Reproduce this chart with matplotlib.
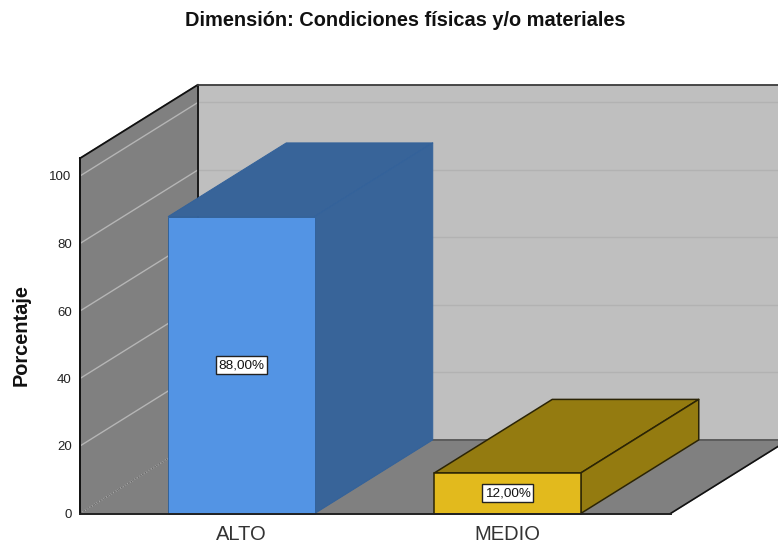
import matplotlib
matplotlib.use('Agg')
import matplotlib.pyplot as plt
from matplotlib.patches import Polygon

plt.rcParams['font.family'] = ['Liberation Sans', 'DejaVu Sans']

categorias = ['ALTO', 'MEDIO']
porcentajes = [88.0, 12.0]
etiquetas = ['88,00%', '12,00%']
marcas_y = [0, 20, 40, 60, 80, 100]

W, H = 778, 545
# plano frontal en pixeles
izq, der, base, tope = 80, 670.5, 513.5, 158.3
esc_y = 3.375
esc_x = 266.0
centro0 = 241.5
# profundidad del efecto 3D en unidades de datos
prof_x = 118 / esc_x
prof_y = 73.6 / esc_y
ancho = 146.5 / esc_x

colores = ['#5394e4', '#e2ba1d']
oscuros = ['#386499', '#947b10']
bordes = ['#33629a', '#2b2405']
grosor = [0.7, 1.1]

fig = plt.figure(figsize=(W / 100, H / 100), dpi=100, facecolor='white')
ax = fig.add_axes([izq / W, 1 - base / H, (der - izq) / W, (base - tope) / H])
ax.set_xlim((izq - centro0) / esc_x, (der - centro0) / esc_x)
ax.set_ylim(0, (base - tope) / esc_y)
x0, x1 = ax.get_xlim()
y0, y1 = ax.get_ylim()


def cara(puntos, color, borde=None, lw=1.0, z=1):
    ax.add_patch(Polygon(puntos, closed=True, facecolor=color, edgecolor=borde or color,
                         linewidth=lw, clip_on=False, zorder=z, joinstyle='round'))


# paredes y piso
cara([(x0 + prof_x, y0 + prof_y), (x1 + prof_x, y0 + prof_y), (x1 + prof_x, y1 + prof_y), (x0 + prof_x, y1 + prof_y)],
     '#bfbfbf', z=1)
cara([(x0, y0), (x0 + prof_x, y0 + prof_y), (x0 + prof_x, y1 + prof_y), (x0, y1)], '#808080', z=1)
cara([(x0, y0), (x1, y0), (x1 + prof_x, y0 + prof_y), (x0 + prof_x, y0 + prof_y)], '#808080', z=1)

# rejilla
for v in marcas_y[1:]:
    ax.plot([x0 + prof_x, x1 + prof_x], [v + prof_y, v + prof_y], color='#b2b2b2', lw=1.0, clip_on=False, zorder=2)
    ax.plot([x0, x0 + prof_x], [v, v + prof_y], color='#b5b5b5', lw=1.0, clip_on=False, zorder=2)
ax.plot([x0, x0 + prof_x], [y0, y0 + prof_y], color='#b5b5b5', lw=1.0, ls=(0, (1, 1)), clip_on=False, zorder=2)

# contornos de las paredes
ax.plot([x0, x0 + prof_x, x0 + prof_x], [y1, y1 + prof_y, y0 + prof_y], color='#111111', lw=1.3, clip_on=False, zorder=3)
ax.plot([x0 + prof_x, x1 + prof_x], [y1 + prof_y, y1 + prof_y], color='#3c3c3c', lw=1.3, clip_on=False, zorder=3)
ax.plot([x0 + prof_x, x1 + prof_x], [y0 + prof_y, y0 + prof_y], color='#5a5a5a', lw=1.3, clip_on=False, zorder=3)
ax.plot([x0, x0 + prof_x], [y0, y0 + prof_y], color='#5a5a5a', lw=0.6, ls=(0, (1, 1)), clip_on=False, zorder=3)
ax.plot([x1, x1 + prof_x], [y0, y0 + prof_y], color='#111111', lw=1.2, clip_on=False, zorder=3)

# barras
for i, v in enumerate(porcentajes):
    a = i - ancho / 2
    b = i + ancho / 2
    cara([(a, v), (b, v), (b + prof_x, v + prof_y), (a + prof_x, v + prof_y)], oscuros[i], bordes[i], grosor[i], z=4)
    cara([(b, 0), (b + prof_x, prof_y), (b + prof_x, v + prof_y), (b, v)], oscuros[i], bordes[i], grosor[i], z=4)
    ax.bar(i, v, width=ancho, color=colores[i], edgecolor=bordes[i], linewidth=grosor[i], zorder=5, clip_on=False)
    ax.text(i, v / 2, etiquetas[i], ha='center', va='center', fontsize=9.7, color='#111111', zorder=6,
            bbox=dict(boxstyle='square,pad=0.22', facecolor='white', edgecolor='#222222', linewidth=1.0))

ax.patch.set_visible(False)
for lado in ['top', 'right']:
    ax.spines[lado].set_visible(False)
ax.spines['left'].set_linewidth(1.4)
ax.spines['left'].set_color('#111111')
ax.spines['bottom'].set_linewidth(1.4)
ax.spines['bottom'].set_color('#222222')
ax.spines['left'].set_zorder(7)
ax.spines['bottom'].set_zorder(7)

ax.set_yticks(marcas_y)
ax.tick_params(axis='y', length=0, pad=6, labelsize=9.5, labelcolor='#222222')
ax.set_xticks(range(len(categorias)))
ax.set_xticklabels(categorias)
ax.tick_params(axis='x', length=0, pad=8, labelsize=14.5, labelcolor='#333333')

fig.text(21 / W, 1 - 335 / H, 'Porcentaje', rotation=90, ha='center', va='center', fontsize=14.4, fontweight='bold',
         color='#111111')
fig.text(405.5 / W, 1 - 20 / H, 'Dimensión: Condiciones físicas y/o materiales', ha='center', va='center', fontsize=14.4,
         fontweight='bold', color='#111111')

fig.savefig('out.png', dpi=100, facecolor='white')
